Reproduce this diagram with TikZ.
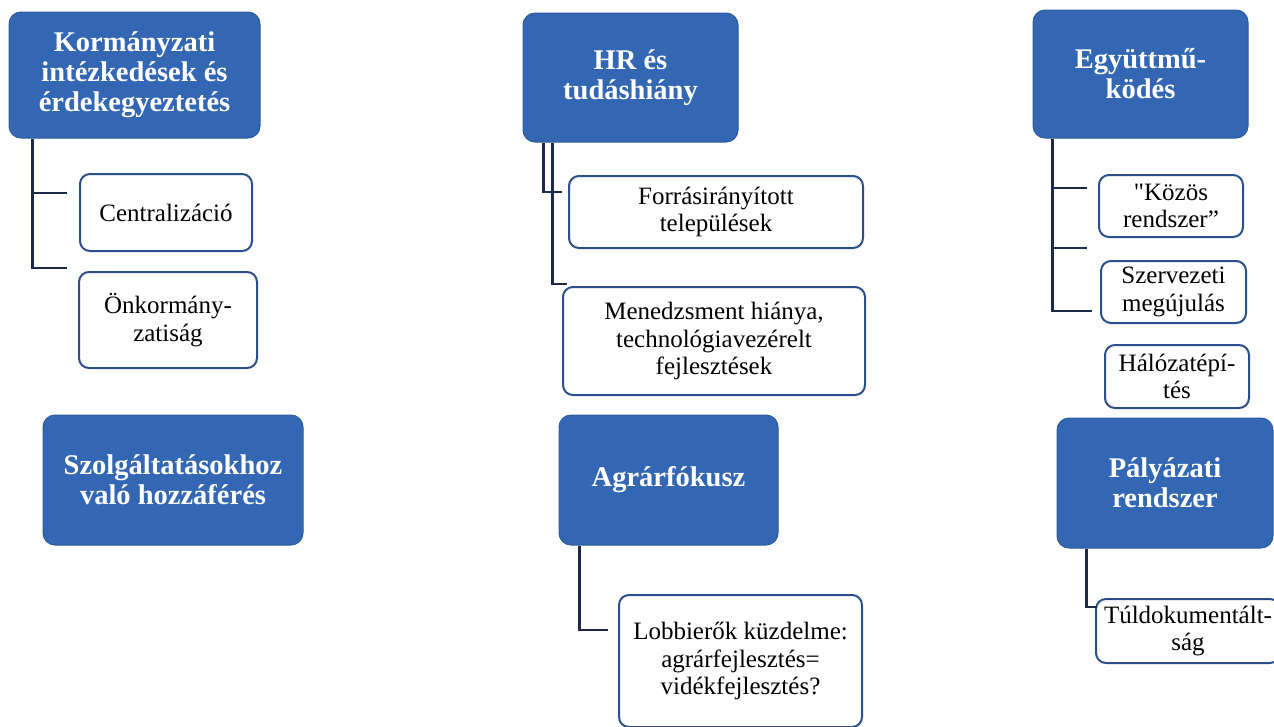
\documentclass[tikz,border=0pt]{standalone}
\usepackage{fontspec}
\setmainfont{Liberation Serif}[Ligatures=TeXOff]
\definecolor{mainblue}{HTML}{3467B3}
\definecolor{mainedge}{HTML}{2E5C9E}
\definecolor{subedge}{HTML}{2B4F8C}
\definecolor{connclr}{HTML}{1B2A4A}
\tikzset{
  mainbox/.style={draw=mainedge, line width=1pt, fill=mainblue, rounded corners=12pt,
    text=white, align=center, inner sep=2pt,
    font=\fontsize{28.5}{30}\selectfont\bfseries},
  subbox/.style={draw=subedge, line width=2pt, fill=white, rounded corners=10pt,
    text=black, align=center, inner sep=2pt,
    font=\fontsize{25}{27.5}\selectfont},
  conn/.style={draw=connclr, line width=2.3pt}
}
\begin{document}
\begin{tikzpicture}[x=1pt,y=-1pt]
\useasboundingbox (0,0) rectangle (1274,726);
\clip (0,0) rectangle (1274,726);
\fill[white] (0,0) rectangle (1274,726);
% column 1
\node[mainbox, minimum width=251pt, minimum height=126pt] (k1) at (134.5,75) {Kormányzati\\intézkedések és\\érdekegyeztetés};
\node[subbox, minimum width=172pt, minimum height=77pt] (c1) at (166,212.5) {Centralizáció};
\node[subbox, minimum width=178pt, minimum height=96pt] (o1) at (168,320) {Önkormány-\\zatiság};
\node[mainbox, minimum width=260pt, minimum height=130pt] (s1) at (173,480) {Szolgáltatásokhoz\\való hozzáférés};
% column 2
\node[mainbox, minimum width=215pt, minimum height=129pt] (hr) at (630.5,77.5) {HR és\\tudáshiány};
\node[subbox, minimum width=294pt, minimum height=72pt] (fr) at (716,212) {Forrásirányított\\települések};
\node[subbox, minimum width=302pt, minimum height=108pt] (me) at (714,341) {Menedzsment hiánya,\\technológiavezérelt\\fejlesztések};
\node[mainbox, minimum width=219pt, minimum height=130pt] (ag) at (668.5,480) {Agrárfókusz};
\node[subbox, minimum width=243pt, minimum height=132pt] (lo) at (740.5,661) {Lobbierők küzdelme:\\agrárfejlesztés=\\vidékfejlesztés?};
% column 3
\node[mainbox, minimum width=215pt, minimum height=128pt] (eg) at (1140.5,74) {Együttmű-\\ködés};
\node[subbox, minimum width=144pt, minimum height=62pt] (kz) at (1171,206) {"Közös\\rendszer”};
\node[subbox, minimum width=145pt, minimum height=62pt] (sz) at (1173.5,292) {Szervezeti\\megújulás};
\node[subbox, minimum width=144pt, minimum height=63pt] (hal) at (1177,376.5) {Hálózatépí-\\tés};
\node[mainbox, minimum width=216pt, minimum height=130pt] (pa) at (1165,483) {Pályázati\\rendszer};
\node[subbox, minimum width=184pt, minimum height=64pt] (tu) at (1188,631) {Túldokumentált-\\ság};
% connector ends
\coordinate (c1e) at (67,193);
\coordinate (o1e) at (67,268);
\coordinate (fre) at (562,192);
\coordinate (mee) at (567,284);
\coordinate (loe) at (608,630);
\coordinate (kze) at (1087,188);
\coordinate (sze) at (1087,248);
\coordinate (sze2) at (1092,311);
\coordinate (tue) at (1097,607);
% connectors
\draw[conn] ([xshift=24pt]k1.south west) |- (c1e);
\draw[conn] ([xshift=24pt]k1.south west) |- (o1e);
\draw[conn] ([xshift=21pt]hr.south west) |- (fre);
\draw[conn] ([xshift=30pt]hr.south west) |- (mee);
\draw[conn] ([xshift=21pt]ag.south west) |- (loe);
\draw[conn] ([xshift=20pt]eg.south west) |- (kze);
\draw[conn] ([xshift=20pt]eg.south west) |- (sze);
\draw[conn] ([xshift=20pt]eg.south west) |- (sze2);
\draw[conn] ([xshift=30pt]pa.south west) |- (tue);
\end{tikzpicture}
\end{document}
